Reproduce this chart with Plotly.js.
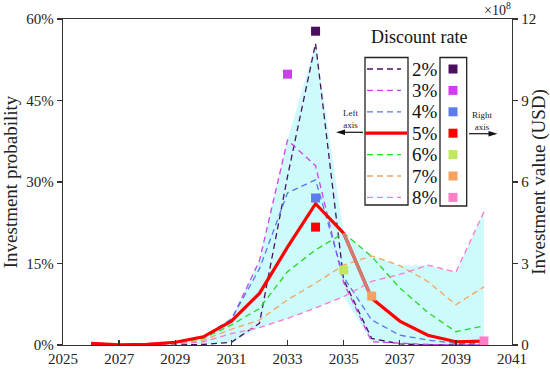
<!DOCTYPE html>
<html>
<head>
<meta charset="utf-8">
<script src="https://cdn.plot.ly/plotly-3.0.1.min.js"></script>
<style>html,body{margin:0;padding:0;background:#fff;}#chart{width:550px;height:370px;}</style>
</head>
<body>
<div id="chart"></div>
<script>
// ---- data ----
const years = [2026,2027,2028,2029,2030,2031,2032,2033,2034,2035,2036,2037,2038,2039,2040];
const rateLabels = ['2%','3%','4%','5%','6%','7%','8%'];
const prob2 = [0.1,0,0,0,0.1,0.5,4,31,55.5,12,1.2,0.2,0,0,0];
const prob3 = [0.2,0,0,0.5,1.5,4.6,15.5,37.7,33,11.5,0.6,0.3,0.1,0,0];
const prob4 = [0.2,0,0,0.5,1.5,4.8,14,28,30.4,12.5,4.6,1.8,0.9,0.3,0.2];
const prob5 = [0.3,0.05,0.1,0.5,1.5,4.4,9.5,18,26,20.6,8.6,4.4,1.8,0.6,0.7];
const prob6 = [0.2,0,0.05,0.4,1.2,3.7,6.7,13.5,17.5,20.6,16.3,10.5,6,2.45,3.5];
const prob7 = [0.2,0,0.05,0.3,0.9,2.9,4.6,8.3,11.4,14.7,16.4,14.6,11.7,7.4,10.7];
const prob8 = [0.1,0,0,0.2,0.6,2.1,3.2,4.9,6.8,8.9,11.7,13,14.7,13.4,24.5];
const valueYears = [2034,2033,2034,2034,2035,2036,2040];
const values = [11.55,9.97,5.41,4.34,2.76,1.8,0.15]; // x 10^8 USD
const xTicks = [2025,2027,2029,2031,2033,2035,2037,2039,2041];
const yTicks = [0,15,30,45,60];
const y2Ticks = [0,3,6,9,12];

// ---- styles ----
const lineColors = ['#4a1060','#cc44ee','#5577ee','#ff0000','#22dd22','#f4a460','#ff77cc'];
const squareColors = ['#4a0f5e','#d23cf0','#5b7bf0','#ff0000','#bde860','#f4a262','#ff7ec6'];
const FONT = 'Liberation Serif';
const probs = [prob2,prob3,prob4,prob5,prob6,prob7,prob8];

// ---- envelope fill (from 2029 on) ----
const start = years.indexOf(2029);
const envX = years.slice(start);
const upper = envX.map((_,i)=>Math.max(...probs.map(p=>p[start+i])));
const lower = envX.map((_,i)=>Math.min(...probs.map(p=>p[start+i])));
const traces = [];
traces.push({x: envX.concat(envX.slice().reverse()), y: upper.concat(lower.slice().reverse()),
  type:'scatter', mode:'lines', fill:'toself', fillcolor:'rgb(205,250,250)', line:{width:0}, hoverinfo:'skip', showlegend:false});

probs.forEach((p,i)=>{
  if (i===3) return;
  traces.push({x:years, y:p, type:'scatter', mode:'lines', name:rateLabels[i],
    line:{color:lineColors[i], width:1.3, dash:'6px,4px'}, showlegend:false});
});
traces.push({x:years, y:prob5, type:'scatter', mode:'lines', name:'5%',
  line:{color:lineColors[3], width:3.2}, showlegend:false});
// segment of the 5% curve shown in a muted tone
const segI = years.indexOf(2035);
traces.push({x:years.slice(segI,segI+2), y:prob5.slice(segI,segI+2), type:'scatter', mode:'lines',
  line:{color:'rgb(208,125,115)', width:3.2}, showlegend:false, hoverinfo:'skip'});
// investment value squares on right axis
traces.push({x:valueYears, y:values, yaxis:'y2', type:'scatter', mode:'markers',
  marker:{symbol:'square', size:9, color:squareColors, line:{width:0}}, cliponaxis:false, showlegend:false});

// ---- custom legend (pixel -> paper) ----
const L=63, R=512, T=19, B=345;
const px = v => (v-L)/(R-L);
const py = v => (B-v)/(B-T);
const shapes = [];
const annotations = [];
const rowY0 = 69, rowDy = 21.4;
shapes.push({type:'rect', xref:'paper', yref:'paper', x0:px(365), x1:px(408), y0:py(57.5), y1:py(205), line:{color:'#222', width:1.3}});
shapes.push({type:'rect', xref:'paper', yref:'paper', x0:px(440), x1:px(466.7), y0:py(57.5), y1:py(206), line:{color:'#222', width:1.3}});
rateLabels.forEach((lab,i)=>{
  const y = rowY0 + i*rowDy;
  if (i===3) {
    shapes.push({type:'line', xref:'paper', yref:'paper', x0:px(365), x1:px(407), y0:py(y), y1:py(y), line:{color:lineColors[i], width:3.2}});
  } else {
    shapes.push({type:'line', xref:'paper', yref:'paper', x0:px(367), x1:px(401), y0:py(y), y1:py(y), line:{color:lineColors[i], width:1.3, dash:'6px,4px'}});
  }
  shapes.push({type:'rect', xref:'paper', yref:'paper', x0:px(448.5), x1:px(457.5), y0:py(y-4.5), y1:py(y+4.5), line:{width:0}, fillcolor:squareColors[i]});
  annotations.push({xref:'paper', yref:'paper', x:px(410), y:py(y), xanchor:'left', yanchor:'middle', text:lab, showarrow:false, font:{family:FONT, size:19, color:'#111'}});
});
annotations.push({xref:'paper', yref:'paper', x:px(419), y:py(37), xanchor:'center', yanchor:'middle', text:'Discount rate', showarrow:false, font:{family:FONT, size:18, color:'#111'}});
annotations.push({xref:'paper', yref:'paper', x:px(350), y:py(118.5), xanchor:'center', yanchor:'middle', text:'Left<br>axis', showarrow:false, font:{family:FONT, size:9, color:'#222'}});
annotations.push({xref:'paper', yref:'paper', x:px(482), y:py(120.5), xanchor:'center', yanchor:'middle', text:'Right<br>axis', showarrow:false, font:{family:FONT, size:9, color:'#222'}});
// arrows (line + triangular head)
shapes.push({type:'line', xref:'paper', yref:'paper', x0:px(343), x1:px(363), y0:py(132.3), y1:py(132.3), line:{color:'#111', width:1.2}});
shapes.push({type:'path', xref:'paper', yref:'paper', path:`M ${px(336)} ${py(132.3)} L ${px(345)} ${py(129.5)} L ${px(345)} ${py(135.1)} Z`, fillcolor:'#111', line:{width:0}});
shapes.push({type:'line', xref:'paper', yref:'paper', x0:px(469), x1:px(490), y0:py(133.7), y1:py(133.7), line:{color:'#111', width:1.2}});
shapes.push({type:'path', xref:'paper', yref:'paper', path:`M ${px(497.5)} ${py(133.7)} L ${px(488.5)} ${py(130.9)} L ${px(488.5)} ${py(136.5)} Z`, fillcolor:'#111', line:{width:0}});
annotations.push({xref:'paper', yref:'paper', x:px(497), y:py(9), xanchor:'center', yanchor:'middle', text:'×10<sup>8</sup>', showarrow:false, font:{family:FONT, size:14, color:'#222'}});

const axisCommon = {showgrid:false, zeroline:false, showline:true, linecolor:'#333', linewidth:1.3,
  tickcolor:'#333', tickwidth:1.3, ticklen:5, tickfont:{family:FONT, size:15, color:'#222'}};

const layout = {
  width:550, height:370,
  margin:{l:L, r:550-R, t:T, b:370-B},
  paper_bgcolor:'#fff', plot_bgcolor:'#fff',
  font:{family:FONT},
  xaxis: Object.assign({}, axisCommon, {range:[2025,2041], tickvals:xTicks, ticktext:xTicks.map(String), ticks:'inside', mirror:true}),
  yaxis: Object.assign({}, axisCommon, {range:[0,60], tickvals:yTicks, ticktext:yTicks.map(v=>v+'%'), ticks:'outside',
    title:{text:'Investment probability', font:{family:FONT, size:19, color:'#222'}, standoff:6}}),
  yaxis2: Object.assign({}, axisCommon, {range:[0,12], tickvals:y2Ticks, ticktext:y2Ticks.map(String), ticks:'outside', overlaying:'y', side:'right',
    title:{text:'Investment value (USD)', font:{family:FONT, size:19, color:'#222'}, standoff:6}}),
  shapes:shapes, annotations:annotations, showlegend:false
};
Plotly.newPlot('chart', traces, layout, {staticPlot:true, displayModeBar:false});
</script>
</body>
</html>
